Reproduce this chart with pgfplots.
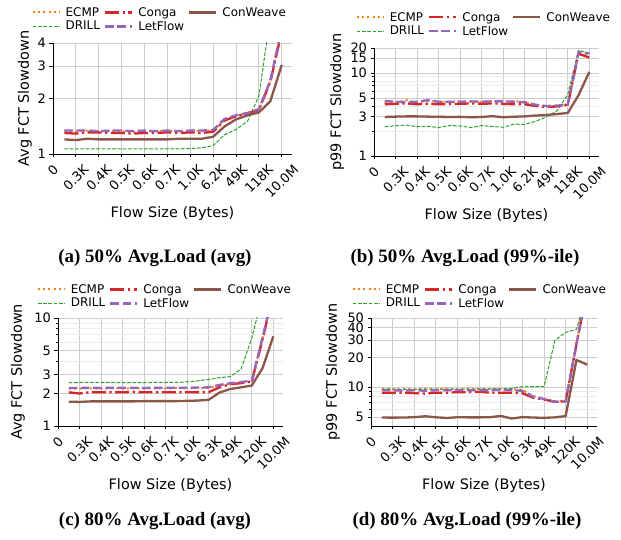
\documentclass[border=0pt]{standalone}
\usepackage{fontspec}
\setmainfont{DejaVu Sans}
\newfontfamily\capfont{Liberation Serif}
\usepackage{graphicx}
\usepackage{pgfplots}
\usepackage{pgfplotstable}
\pgfplotsset{compat=1.18}

\definecolor{cECMP}{HTML}{FF7F0E}
\definecolor{cDRILL}{HTML}{2CA02C}
\definecolor{cConga}{HTML}{D62728}
\definecolor{cLetFlow}{HTML}{9467BD}
\definecolor{cConWeave}{HTML}{8C564B}

\tikzset{
  ecmp/.style={color=cECMP, line width=2bp, dash pattern=on 2bp off 3.3bp},
  drill/.style={color=cDRILL, line width=1bp, dash pattern=on 3.7bp off 1.6bp},
  conga/.style={color=cConga, line width=2.3bp, dash pattern=on 14bp off 3.5bp on 2.3bp off 3.5bp},
  letflow/.style={color=cLetFlow, line width=2.3bp, dash pattern=on 8.5bp off 3.7bp},
  conweave/.style={color=cConWeave, line width=2.3bp},
}

% rotated tick label, centred under its tick like matplotlib's rotation=45
\newcommand{\rl}[1]{\rotatebox{45}{#1}}

\pgfplotsset{
  fct/.style={
    scale only axis,
    axis x line*=bottom, axis y line*=left,
    axis line style={black, line width=0.8bp},
    tick align=outside,
    major tick length=3.5bp, minor tick length=2bp,
    tick style={black, line width=0.8bp},
    xmin=0, xmax=10.45,
    xtick={0,...,10},
    grid=both,
    major grid style={gray!40, line width=0.8bp},
    minor grid style={gray!15, line width=0.8bp},
    tick label style={font=\fontsize{13}{15}\selectfont},
    label style={font=\fontsize{14.5}{17}\selectfont},
    xticklabel style={anchor=north, inner sep=0pt, yshift=-6bp},
    xlabel={Flow Size (Bytes)},
    xlabel style={at={(axis description cs:0.5,0)}, anchor=center, yshift=-60bp},
    legend columns=3,
    legend cell align=left,
    legend style={draw=none, fill=none, inner sep=0pt, anchor=north west,
      font=\fontsize{12}{14}\selectfont,
      nodes={inner sep=1bp}, row sep=1.5bp,
      /tikz/every odd column/.append style={column sep=4bp},
      /tikz/every even column/.append style={column sep=3bp}},
    legend image code/.code={\draw[##1] (0bp,0bp) -- (27bp,0bp);},
  },
  sizesA/.style={xticklabels={\rl{0},\rl{0.3K},\rl{0.4K},\rl{0.5K},\rl{0.6K},\rl{0.7K},\rl{1.0K},\rl{6.2K},\rl{49K},\rl{118K},\rl{10.0M}}},
  sizesB/.style={xticklabels={\rl{0},\rl{0.3K},\rl{0.4K},\rl{0.5K},\rl{0.6K},\rl{0.7K},\rl{1.0K},\rl{6.3K},\rl{49K},\rl{120K},\rl{10.0M}}},
}

% columns: flow-size bucket position, then one column per scheme
\pgfplotstableread{
x    ecmp  drill  conga letflow conweave
0.5  1.33  1.065  1.30  1.34  1.20
1.0  1.32  1.065  1.29  1.34  1.19
1.5  1.34  1.065  1.31  1.34  1.21
2.0  1.33  1.065  1.31  1.33  1.20
2.5  1.33  1.065  1.30  1.34  1.20
3.0  1.33  1.066  1.30  1.34  1.20
3.5  1.32  1.066  1.29  1.33  1.20
4.0  1.33  1.066  1.30  1.34  1.20
4.5  1.33  1.066  1.30  1.33  1.20
5.0  1.34  1.066  1.31  1.34  1.20
5.5  1.33  1.067  1.30  1.33  1.21
6.0  1.34  1.07   1.31  1.34  1.21
6.5  1.33  1.08   1.30  1.34  1.21
7.0  1.35  1.11   1.32  1.35  1.24
7.5  1.53  1.27   1.52  1.55  1.41
8.0  1.61  1.36   1.60  1.62  1.54
8.5  1.67  1.50   1.66  1.67  1.62
9.0  1.74  2.06   1.73  1.75  1.68
9.5  2.50  5.5    2.45  2.50  1.93
10.0 4.8   8.0    4.6   4.8   3.04
}\tabA

\pgfplotstableread{
x    ecmp  drill  conga letflow conweave
0.5  4.50  2.25   4.20  4.60  2.95
1.0  4.40  2.32   4.25  4.50  2.98
1.5  4.70  2.36   4.30  4.45  3.00
2.0  4.40  2.25   4.20  4.50  3.00
2.5  4.60  2.28   4.25  4.70  2.98
3.0  4.50  2.20   4.20  4.50  2.97
3.5  4.50  2.33   4.22  4.50  2.95
4.0  4.55  2.30   4.25  4.50  2.96
4.5  4.50  2.20   4.30  4.55  2.93
5.0  4.50  2.32   4.25  4.50  2.95
5.5  4.60  2.27   4.30  4.55  3.02
6.0  4.50  2.22   4.25  4.55  2.93
6.5  4.60  2.42   4.20  4.50  2.97
7.0  4.40  2.40   4.20  4.45  3.00
7.5  4.10  2.62   4.00  4.15  3.07
8.0  4.00  2.95   3.90  4.00  3.12
8.5  4.00  3.50   3.95  4.05  3.20
9.0  4.10  5.50   4.15  4.15  3.30
9.5  17.5  18.8   17.1  17.9  5.40
10.0 16.8  17.4   15.3  17.1  10.3
}\tabB

\pgfplotstableread{
x    ecmp  drill  conga letflow conweave
0.5  2.22  2.52   2.05  2.25  1.68
1.0  2.22  2.53   2.00  2.25  1.67
1.5  2.23  2.54   2.06  2.26  1.69
2.0  2.22  2.53   2.05  2.25  1.69
2.5  2.23  2.53   2.06  2.26  1.69
3.0  2.22  2.52   2.05  2.26  1.69
3.5  2.23  2.52   2.07  2.26  1.69
4.0  2.23  2.52   2.05  2.25  1.70
4.5  2.23  2.53   2.06  2.26  1.70
5.0  2.23  2.53   2.05  2.26  1.70
5.5  2.24  2.53   2.05  2.26  1.70
6.0  2.24  2.56   2.05  2.26  1.71
6.5  2.24  2.62   2.06  2.27  1.72
7.0  2.25  2.70   2.06  2.28  1.75
7.5  2.38  2.80   2.28  2.40  2.04
8.0  2.47  2.87   2.44  2.49  2.20
8.5  2.52  3.36   2.49  2.55  2.28
9.0  2.60  6.5    2.58  2.63  2.37
9.5  6.5   16.4   6.3   6.6   3.43
10.0 17    25     17    17    6.76
}\tabC

\pgfplotstableread{
x    ecmp  drill  conga letflow conweave
0.5  9.6   9.55   8.80  9.3   4.93
1.0  9.5   9.55   8.75  9.3   4.92
1.5  9.6   9.50   8.80  9.2   4.93
2.0  9.5   9.50   8.70  9.3   4.97
2.5  9.6   9.55   8.60  9.2   5.08
3.0  9.5   9.55   8.80  9.3   4.96
3.5  9.6   9.55   8.80  9.3   4.88
4.0  9.5   9.55   8.90  9.3   4.97
4.5  9.6   9.55   8.90  9.3   4.95
5.0  9.6   9.60   9.00  9.3   4.95
5.5  9.5   9.60   8.80  9.3   4.97
6.0  9.6   9.60   8.80  9.4   5.12
6.5  9.5   9.70   8.80  9.3   4.82
7.0  9.4   10.1   8.70  9.2   4.98
7.5  8.1   10.1   7.80  8.0   4.93
8.0  7.7   10.1   7.50  7.6   4.90
8.5  7.2   29.5   7.10  7.1   4.95
9.0  7.3   35.8   7.20  7.15  5.10
9.5  28    38.3   27    27    18.8
10.0 100   90     100   100   16.9
}\tabD

\newcommand{\legendlines}{%
  \addlegendimage{ecmp}\addlegendentry{ECMP}
  \addlegendimage{conga}\addlegendentry{Conga}
  \addlegendimage{conweave}\addlegendentry{ConWeave}
  \addlegendimage{drill}\addlegendentry{DRILL}
  \addlegendimage{letflow}\addlegendentry{LetFlow}
}
\newcommand{\schemes}[1]{%
  \addplot[ecmp, forget plot] table[x=x, y=ecmp] {#1};
  \addplot[drill, forget plot] table[x=x, y=drill] {#1};
  \addplot[conga, forget plot] table[x=x, y=conga] {#1};
  \addplot[letflow, forget plot] table[x=x, y=letflow] {#1};
  \addplot[conweave, forget plot] table[x=x, y=conweave] {#1};
}

\begin{document}
\begin{tikzpicture}
\useasboundingbox (0bp,0bp) rectangle (621bp,540bp);

% (a)
\begin{axis}[ymode=log, fct, sizesA, at={(53bp,386bp)}, anchor=south west, width=239bp, height=111bp,
  ymin=1, ymax=4, ytick={1,2,3,4}, yticklabels={1,2,3,4},
  ylabel={Avg FCT Slowdown},
  ylabel style={at={(axis description cs:-0.118,0.5)}, anchor=center},
  legend style={at={(axis description cs:-0.09,1.333)}}]
\legendlines
\schemes{\tabA}
\end{axis}

% (b)
\begin{axis}[ymode=log, fct, sizesA, at={(374bp,384bp)}, anchor=south west, width=225bp, height=108bp,
  ymin=1, ymax=20, ytick={1,3,5,10,15,20}, yticklabels={1,3,5,10,15,20},
  minor ytick={2,4,6,7,8,9},
  ylabel={p99 FCT Slowdown},
  ylabel style={at={(axis description cs:-0.164,0.5)}, anchor=center},
  legend style={at={(axis description cs:-0.082,1.343)}}]
\legendlines
\schemes{\tabB}
\end{axis}

% (c)
\begin{axis}[ymode=log, fct, sizesB, at={(58bp,114bp)}, anchor=south west, width=225bp, height=108bp,
  ymin=1, ymax=10, ytick={1,2,3,5,10}, yticklabels={1,2,3,5,10},
  minor ytick={4,6,7,8,9},
  ylabel={Avg FCT Slowdown},
  ylabel style={at={(axis description cs:-0.178,0.5)}, anchor=center},
  legend style={at={(axis description cs:-0.095,1.324)}}]
\legendlines
\schemes{\tabC}
\end{axis}

% (d)
\begin{axis}[ymode=log, fct, sizesB, at={(371bp,114bp)}, anchor=south west, width=226bp, height=108bp,
  ymin=4.05, ymax=50, ytick={5,10,20,30,40,50}, yticklabels={5,10,20,30,40,50},
  minor ytick={6,7,8,9},
  ylabel={p99 FCT Slowdown},
  ylabel style={at={(axis description cs:-0.169,0.5)}, anchor=center},
  legend style={at={(axis description cs:-0.086,1.324)}}]
\legendlines
\schemes{\tabD}
\end{axis}

\node[font=\capfont\bfseries\fontsize{19}{22}\selectfont] at (155bp,282bp) {(a) 50\% Avg.Load (avg)};
\node[font=\capfont\bfseries\fontsize{19}{22}\selectfont] at (465bp,282bp) {(b) 50\% Avg.Load (99\%-ile)};
\node[font=\capfont\bfseries\fontsize{19}{22}\selectfont] at (155bp,19bp) {(c) 80\% Avg.Load (avg)};
\node[font=\capfont\bfseries\fontsize{19}{22}\selectfont] at (467bp,19bp) {(d) 80\% Avg.Load (99\%-ile)};
\end{tikzpicture}
\end{document}
